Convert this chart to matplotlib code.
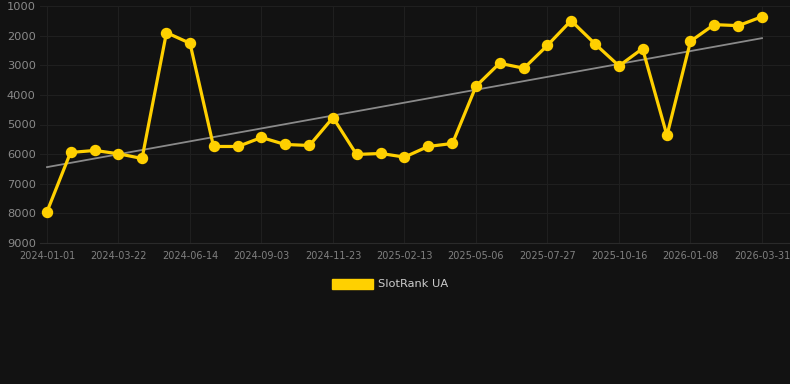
import matplotlib
matplotlib.use("Agg")
import matplotlib.pyplot as plt
import matplotlib.dates as mdates
import numpy as np
import pandas as pd
from matplotlib.patches import Patch

dates = ["2024-01-01", "2024-01-28", "2024-02-25", "2024-03-23", "2024-04-19",
         "2024-05-17", "2024-06-13", "2024-07-10", "2024-08-07", "2024-09-03",
         "2024-09-30", "2024-10-28", "2024-11-24", "2024-12-21", "2025-01-18",
         "2025-02-14", "2025-03-13", "2025-04-10", "2025-05-07", "2025-06-03",
         "2025-07-01", "2025-07-28", "2025-08-24", "2025-09-21", "2025-10-18",
         "2025-11-14", "2025-12-12", "2026-01-08", "2026-02-04", "2026-03-04",
         "2026-03-31"]
ranks = [7944, 5944, 5876, 5989, 6146, 1899, 2258, 5742, 5742, 5438,
         5674, 5708, 4764, 6011, 5978, 6101, 5742, 5640, 3708, 2933,
         3101, 2326, 1494, 2292, 3022, 2438, 5371, 2191, 1629, 1663,
         1360]
tick_labels = ["2024-01-01", "2024-03-22", "2024-06-14", "2024-09-03", "2024-11-23",
               "2025-02-13", "2025-05-06", "2025-07-27", "2025-10-16", "2026-01-08",
               "2026-03-31"]
y_ticks = [1000, 2000, 3000, 4000, 5000, 6000, 7000, 8000, 9000]
series_name = "SlotRank UA"

bg = "#121212"
gold = "#FFD000"

x = mdates.date2num(pd.to_datetime(dates))
y = np.array(ranks, dtype=float)

fig = plt.figure(figsize=(7.9, 3.84), dpi=100, facecolor=bg)
ax = fig.add_axes([40/790, (384-243)/384, 750/790, 237/384])
ax.set_facecolor(bg)

# trend line (linear regression)
coef = np.polyfit(x, y, 1)
ax.plot([x[0], x[-1]], np.polyval(coef, [x[0], x[-1]]), color="#8a8a8a", lw=1.3, zorder=2)

ax.plot(x, y, color=gold, lw=2.3, marker="o", markersize=7.2, zorder=3)

x0, x1 = x[0], x[-1]
px_per = (x1 - x0) / (762 - 47)
ax.set_xlim(x0 - 7 * px_per, x0 + (790 - 47) * px_per)
ax.set_ylim(9000, 1000)
ax.set_yticks(y_ticks)
ax.set_yticklabels([str(v) for v in y_ticks])
ax.set_xticks(np.linspace(x0, x1, len(tick_labels)))
ax.set_xticklabels(tick_labels)

ax.grid(True, color="#1f1f1f", lw=0.8)
ax.set_axisbelow(True)
for s in ["top", "right", "left"]:
    ax.spines[s].set_visible(False)
ax.spines["bottom"].set_color("#2a2a2a")
ax.tick_params(axis="y", length=0, pad=3, labelsize=8.2, labelcolor="#8a8a8a")
ax.tick_params(axis="x", length=0, pad=6, labelsize=7, labelcolor="#808080")

handles = [Patch(facecolor=gold, edgecolor=gold)]
leg = fig.legend(handles, [series_name], loc="center", bbox_to_anchor=(390/790, 1 - 284/384),
                 frameon=False, fontsize=8.2, handlelength=3.6, handleheight=1.0,
                 handletextpad=0.5, labelcolor="#cccccc")

fig.savefig("out.png", dpi=100, facecolor=bg)
